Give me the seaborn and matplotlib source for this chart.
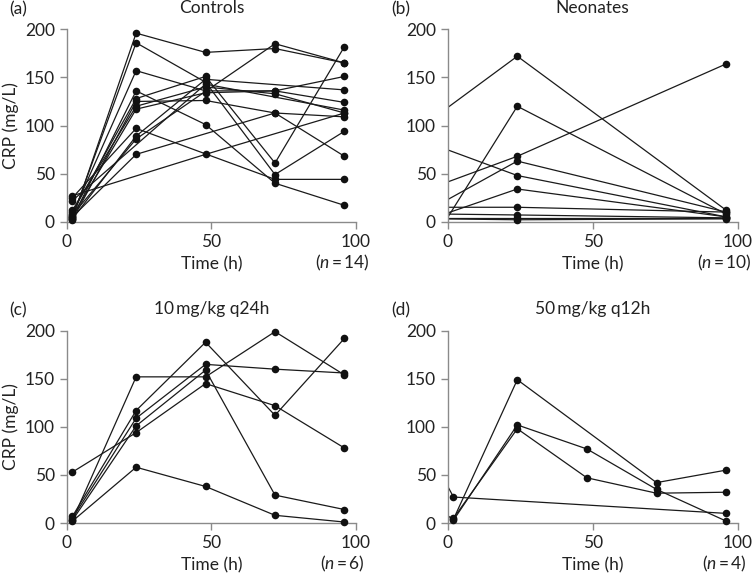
import numpy as np
import pandas as pd
import seaborn as sns
import matplotlib.pyplot as plt

## ==============================
## 데이터 (CRP, mg/L) - 그림에서 읽은 값
# 시간축 (h). -3h 값은 축 밖(사전 측정값)이라 선만 보임
times_ctrl = [2, 24, 48, 72, 96]
controls = [
    [3, 196, 176, 180, 165],
    [5, 186, 145, 49, 94],
    [8, 157, 136, 136, 124],
    [4, 136, 101, 40, 17],
    [10, 128, 151, 61, 182],
    [2, 125, 126, 113, 109],
    [12, 120, 140, 133, 113],
    [6, 117, 134, 136, 151],
    [25, 97, np.nan, 44, 44],
    [3, 89, 148, np.nan, 137],
    [7, 86, np.nan, 185, 165],
    [5, 70, np.nan, 113, 68],
    [27, np.nan, 70, np.nan, 113],
    [22, np.nan, 143, np.nan, 116],
]

times_neo = [-3, 24, 96]
neonates = [
    [112, 172, 12],
    [-10, 120, 8],
    [78, 48, 5],
    [38, 68, 164],
    [18, 63, 10],
    [6, 34, 5],
    [15, 15, 10],
    [8, 7, 4],
    [4, 4, 4],
    [3, 2, 3],
]

times_q24 = [2, 24, 48, 72, 96]
dose_q24 = [
    [53, 94, 145, 122, 78],
    [3, 152, 152, 199, 154],
    [7, 117, 188, 112, 192],
    [5, 109, 165, 160, 156],
    [3, 101, 159, 29, 14],
    [2, 58, 38, 8, 1],
]

times_q12 = [-3, 2, 24, 48, 72, 96]
dose_q12 = [
    [np.nan, 4, 149, np.nan, 42, 55],
    [15, 3, 102, 77, 35, 2],
    [np.nan, 5, 98, 47, 31, 32],
    [55, 27, np.nan, np.nan, np.nan, 10],
]

panels = [
    ('(a)', 'Controls', times_ctrl, controls, 14),
    ('(b)', 'Neonates', times_neo, neonates, 10),
    ('(c)', '10\u2009mg/kg q24h', times_q24, dose_q24, 6),
    ('(d)', '50\u2009mg/kg q12h', times_q12, dose_q12, 4),
]


def to_long(times, rows):
    df = pd.DataFrame(rows, columns=times)
    df['subject'] = range(len(df))
    df = df.melt(id_vars='subject', var_name='time', value_name='crp').dropna()
    df['time'] = df['time'].astype(float)
    return df


## ==============================
## 스타일
sns.set_style('ticks')
plt.rcParams['font.family'] = ['Lato', 'DejaVu Sans']
plt.rcParams['mathtext.fontset'] = 'custom'
plt.rcParams['mathtext.it'] = 'Lato:italic'
plt.rcParams['mathtext.rm'] = 'Lato'
grey = '#8a8a8a'
plt.rcParams.update({
    'axes.edgecolor': grey,
    'xtick.color': grey,
    'ytick.color': grey,
    'xtick.labelcolor': '#222222',
    'ytick.labelcolor': '#222222',
    'xtick.major.size': 5,
    'ytick.major.size': 5,
    'axes.linewidth': 1.0,
})

fig = plt.figure(figsize=(7.52, 5.76), dpi=100)
W, H = 752, 576
# (left, right, top, bottom) 픽셀
boxes = [
    (66.7, 356, 29.3, 221.7),
    (447.7, 737.7, 29.3, 221.7),
    (66.7, 356, 330.7, 523),
    (447.7, 737.7, 330.7, 523),
]

for i, ((letter, title, times, rows, n), (l, r, t, b)) in enumerate(zip(panels, boxes)):
    ax = fig.add_axes([l / W, 1 - b / H, (r - l) / W, (b - t) / H])
    df = to_long(times, rows)

    sns.lineplot(data=df, x='time', y='crp', units='subject', estimator=None,
                 color='#1a1a1a', linewidth=0.9, legend=False, ax=ax)
    sns.scatterplot(data=df[df['time'] >= 0], x='time', y='crp', color='#111111',
                    s=30, linewidth=0, clip_on=False, zorder=3, legend=False, ax=ax)

    ax.set_xlim(0, 100)
    ax.set_ylim(0, 200)
    ax.set_xticks([0, 50, 100])
    ax.set_yticks([0, 50, 100, 150, 200])
    ax.tick_params(labelsize=12.5, width=1.0)
    sns.despine(ax=ax)

    ax.set_xlabel('Time (h)', fontsize=12.5, color='#222222', labelpad=5)
    ax.set_ylabel('CRP (mg/L)' if i % 2 == 0 else '', fontsize=12.5, color='#222222', labelpad=4)
    ax.set_title(title, fontsize=12.5, color='#222222', pad=12)

    ax.text(0.952, -0.215, '($\\mathit{n}$\u2009=\u2009%d)' % n, transform=ax.transAxes,
            ha='center', va='center', fontsize=12.5, color='#222222')
    fig.text((l - 57) / W if i % 2 == 0 else (l - 56) / W, 1 - (t - 20) / H, letter,
             ha='left', va='center', fontsize=12.5, color='#222222')

plt.savefig('out.png', dpi=100)
